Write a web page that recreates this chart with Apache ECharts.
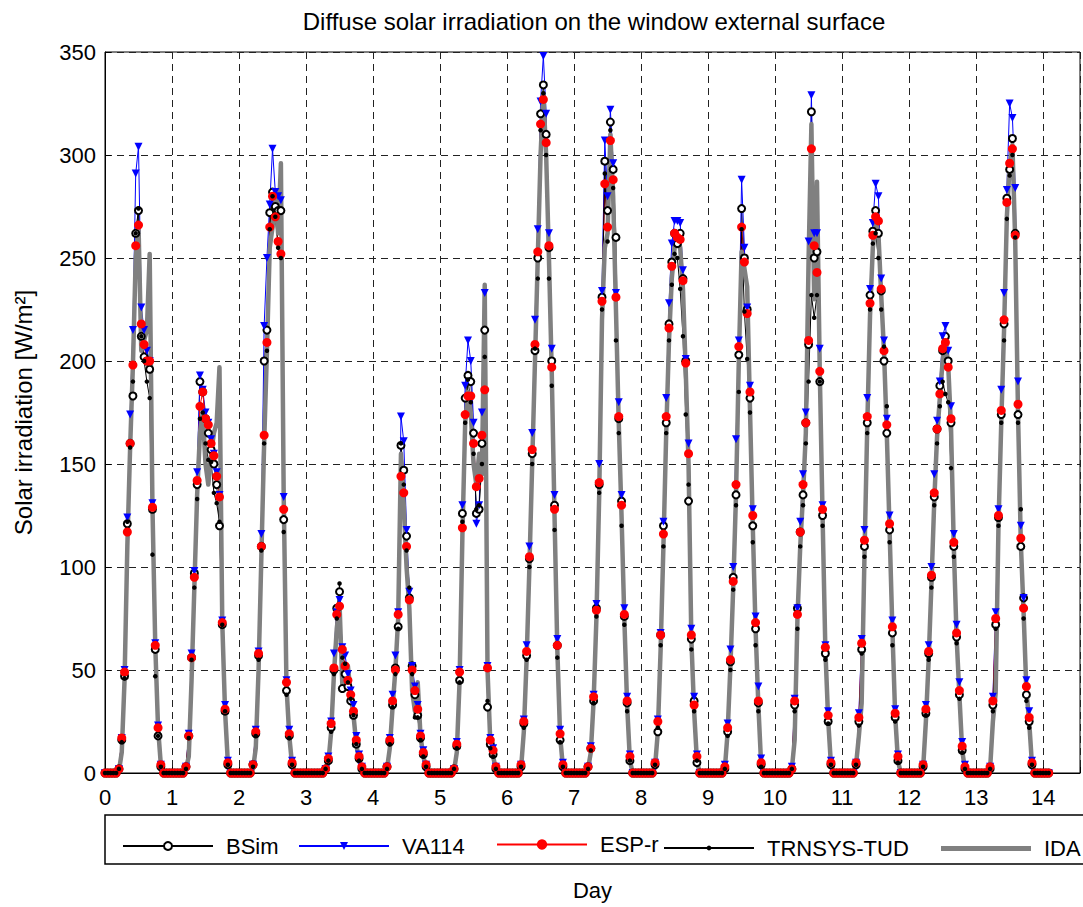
<!DOCTYPE html>
<html>
<head>
<meta charset="utf-8">
<title>Diffuse solar irradiation on the window external surface</title>
<script src="https://cdn.jsdelivr.net/npm/echarts@6/dist/echarts.min.js"></script>
<style>
  html, body { margin: 0; padding: 0; background: #fff; }
  #chart { width: 1083px; height: 907px; }
</style>
</head>
<body>
<div id="chart"></div>
<script>
// hourly values [W/m2], one row per day, hours 05:00 .. 20:00 (0 outside)
const firstHour = 5;

const bsim = [
  [2, 16, 47, 121, 160, 183, 262, 273, 212, 202, 200, 196, 128, 60, 18, 3],
  [3, 18, 56, 97, 140, 190, 185, 172, 165, 157, 150, 140, 120, 72, 30, 4],
  [4, 19, 57, 110, 200, 215, 272, 282, 275, 273, 273, 123, 40, 18, 4, 0],
  [0, 0, 2, 6, 22, 50, 80, 88, 41, 48, 42, 35, 28, 14, 7, 2],
  [3, 15, 33, 51, 71, 159, 147, 115, 85, 52, 38, 28, 17, 9, 3, 0],
  [2, 13, 45, 126, 182, 193, 190, 165, 126, 128, 160, 215, 32, 14, 9, 2],
  [3, 24, 57, 104, 155, 205, 250, 320, 334, 310, 255, 200, 130, 62, 16, 3],
  [3, 12, 35, 80, 140, 231, 297, 273, 316, 293, 260, 172, 132, 76, 34, 6],
  [4, 20, 67, 120, 170, 218, 248, 262, 257, 262, 240, 200, 132, 65, 35, 5],
  [0, 2, 20, 54, 95, 135, 203, 274, 250, 225, 182, 120, 70, 34, 4, 0],
  [0, 2, 33, 80, 117, 135, 170, 208, 321, 250, 253, 190, 125, 58, 25, 4],
  [4, 25, 60, 110, 170, 232, 263, 273, 262, 234, 200, 165, 118, 68, 27, 6],
  [3, 29, 58, 95, 134, 167, 188, 205, 212, 200, 170, 110, 66, 38, 11, 2],
  [2, 33, 72, 124, 174, 218, 279, 293, 308, 262, 174, 110, 85, 38, 25, 4]
];

const va114 = [
  [2, 17, 50, 124, 174, 215, 291, 304, 226, 215, 205, 200, 131, 63, 23, 4],
  [3, 19, 58, 98, 146, 193, 186, 175, 170, 162, 155, 146, 135, 74, 33, 6],
  [4, 21, 59, 116, 217, 250, 276, 303, 282, 280, 278, 134, 45, 21, 6, 0],
  [0, 0, 2, 8, 25, 58, 78, 84, 61, 57, 48, 40, 33, 18, 9, 3],
  [3, 17, 38, 57, 78, 173, 161, 118, 88, 52, 42, 33, 19, 11, 4, 0],
  [2, 15, 50, 130, 188, 210, 200, 170, 121, 130, 175, 233, 52, 17, 12, 3],
  [4, 26, 62, 110, 165, 220, 264, 326, 348, 320, 262, 206, 135, 65, 21, 5],
  [3, 13, 38, 82, 150, 234, 307, 280, 322, 296, 233, 180, 135, 80, 37, 9],
  [5, 26, 68, 122, 182, 228, 257, 268, 268, 267, 244, 201, 160, 70, 37, 9],
  [0, 4, 24, 60, 100, 162, 210, 288, 255, 226, 188, 128, 76, 42, 7, 0],
  [0, 3, 36, 80, 122, 145, 175, 258, 329, 262, 262, 206, 130, 62, 30, 6],
  [5, 29, 65, 118, 182, 235, 267, 286, 280, 240, 210, 172, 125, 74, 31, 9],
  [4, 33, 62, 100, 145, 171, 190, 212, 217, 205, 178, 116, 72, 44, 15, 4],
  [3, 37, 78, 128, 186, 233, 283, 325, 318, 284, 190, 120, 85, 45, 30, 6]
];

const espr = [
  [2, 17, 49, 117, 160, 198, 256, 266, 218, 208, 200, 200, 129, 62, 22, 4],
  [3, 18, 56, 95, 142, 178, 185, 172, 169, 160, 154, 144, 134, 73, 31, 5],
  [4, 20, 58, 110, 164, 209, 265, 280, 270, 258, 252, 128, 44, 19, 5, 0],
  [0, 0, 2, 7, 24, 51, 77, 81, 60, 52, 45, 38, 30, 16, 8, 3],
  [3, 16, 35, 50, 77, 144, 136, 110, 84, 50, 40, 31, 18, 10, 4, 0],
  [2, 14, 49, 119, 174, 183, 183, 160, 139, 143, 164, 186, 51, 16, 11, 3],
  [4, 25, 59, 105, 157, 208, 253, 315, 327, 306, 256, 197, 128, 62, 19, 4],
  [3, 12, 37, 79, 141, 229, 286, 265, 307, 288, 231, 173, 130, 77, 35, 8],
  [5, 25, 67, 116, 173, 216, 246, 262, 260, 259, 239, 199, 155, 67, 33, 8],
  [0, 3, 22, 55, 93, 140, 207, 265, 248, 223, 185, 125, 73, 35, 5, 0],
  [0, 2, 35, 77, 117, 140, 170, 210, 303, 256, 243, 195, 128, 61, 28, 5],
  [5, 27, 63, 113, 173, 228, 261, 270, 268, 235, 205, 169, 121, 71, 29, 8],
  [4, 31, 59, 96, 136, 167, 184, 206, 209, 197, 172, 112, 68, 40, 13, 3],
  [3, 35, 75, 125, 176, 220, 277, 296, 303, 261, 179, 114, 80, 42, 27, 5]
];

const trnsys = [
  [2, 15, 46, 122, 158, 190, 262, 274, 212, 200, 190, 182, 106, 47, 18, 3],
  [2, 17, 55, 90, 133, 172, 175, 160, 152, 151, 136, 131, 122, 72, 30, 4],
  [3, 18, 55, 108, 160, 205, 264, 280, 270, 255, 250, 117, 38, 17, 4, 0],
  [0, 0, 2, 6, 20, 48, 75, 92, 56, 53, 44, 36, 28, 14, 6, 2],
  [2, 14, 32, 48, 70, 160, 140, 108, 90, 48, 27, 27, 16, 8, 3, 0],
  [2, 12, 44, 122, 170, 191, 180, 155, 128, 130, 150, 202, 35, 12, 8, 2],
  [3, 22, 55, 100, 150, 206, 240, 312, 330, 300, 240, 188, 118, 56, 15, 3],
  [2, 11, 34, 76, 136, 225, 291, 258, 312, 284, 210, 165, 120, 72, 30, 6],
  [4, 22, 62, 110, 165, 210, 237, 252, 250, 235, 212, 174, 140, 60, 30, 6],
  [0, 2, 18, 50, 89, 130, 185, 264, 224, 201, 175, 112, 62, 30, 3, 0],
  [0, 2, 30, 70, 110, 130, 160, 190, 232, 221, 232, 190, 120, 55, 24, 4],
  [4, 23, 58, 105, 165, 225, 257, 262, 250, 225, 207, 178, 112, 62, 25, 5],
  [3, 28, 55, 90, 130, 160, 178, 190, 184, 180, 148, 105, 63, 36, 10, 2],
  [2, 30, 70, 120, 170, 210, 269, 290, 300, 260, 170, 128, 75, 35, 22, 4]
];

const ida = [
  [1, 10, 45, 110, 158, 198, 250, 266, 205, 210, 215, 252, 129, 62, 22, 4],
  [2, 8, 45, 90, 135, 165, 175, 150, 140, 155, 165, 170, 197, 73, 30, 5],
  [2, 12, 50, 105, 160, 205, 255, 265, 282, 262, 296, 135, 42, 18, 4, 0],
  [0, 0, 1, 5, 20, 48, 70, 82, 43, 47, 52, 38, 28, 14, 6, 2],
  [2, 12, 32, 50, 75, 155, 130, 100, 80, 40, 30, 44, 18, 8, 3, 0],
  [1, 10, 45, 115, 170, 185, 175, 150, 140, 155, 145, 237, 50, 15, 8, 2],
  [2, 20, 55, 100, 150, 200, 250, 300, 330, 300, 250, 195, 125, 60, 18, 3],
  [2, 10, 35, 75, 135, 220, 255, 262, 310, 280, 225, 170, 125, 75, 33, 6],
  [3, 20, 60, 110, 165, 210, 240, 255, 262, 255, 235, 195, 150, 65, 30, 6],
  [0, 2, 20, 52, 90, 135, 200, 253, 245, 236, 177, 120, 70, 33, 4, 0],
  [0, 2, 16, 75, 110, 135, 165, 250, 315, 230, 287, 195, 125, 60, 26, 4],
  [4, 18, 34, 105, 168, 222, 255, 268, 262, 232, 205, 165, 118, 70, 28, 6],
  [2, 25, 55, 92, 132, 163, 182, 200, 210, 198, 168, 110, 66, 38, 11, 2],
  [2, 25, 39, 120, 170, 215, 270, 295, 305, 258, 175, 112, 78, 40, 25, 4]
];

const dayTicks = [0, 1, 2, 3, 4, 5, 6, 7, 8, 9, 10, 11, 12, 13, 14];

const FONT = "'Liberation Sans', Arial, Helvetica, sans-serif";

// one [day, value] pair per hour, zero at night, plus the first hours of day 14
function toPoints(days) {
  const pts = [];
  for (let d = 0; d < days.length; d++) {
    for (let h = 0; h < 24; h++) {
      const i = h - firstHour;
      const v = (i >= 0 && i < days[d].length) ? days[d][i] : 0;
      pts.push([d + h / 24, v]);
    }
  }
  for (let h = 0; h <= 2; h++) pts.push([days.length + h / 24, 0]);
  return pts;
}

function lineSeries(name, days, color, symbol, size, extra) {
  return Object.assign({
    name: name,
    type: 'line',
    data: toPoints(days),
    symbol: symbol,
    symbolSize: size,
    showAllSymbol: true,
    color: color,
    lineStyle: { color: color, width: 1 },
    itemStyle: { color: color },
    emphasis: { disabled: true }
  }, extra || {});
}

function legendItem(name, left, h, extra) {
  return Object.assign({
    data: [name],
    left: left,
    top: 840 - h / 2,
    padding: 0,
    itemWidth: 90,
    itemHeight: h,
    selectedMode: false,
    textStyle: { fontSize: 22, color: '#000', fontFamily: FONT, padding: [0, 0, 0, 8] }
  }, extra || {});
}

const chart = echarts.init(document.getElementById('chart'), null, { renderer: 'svg' });

chart.setOption({
  animation: false,
  backgroundColor: '#fff',
  grid: {
    left: 105, top: 52, width: 979, height: 721,
    show: true, borderColor: '#000', borderWidth: 1
  },
  graphic: [
    {
      type: 'text', x: 594, y: 21, silent: true,
      style: {
        text: 'Diffuse solar irradiation on the window external surface',
        fontSize: 24, fontFamily: FONT, fill: '#000',
        textAlign: 'center', textVerticalAlign: 'middle'
      }
    },
    {
      type: 'rect', x: 105, y: 815, silent: true, z: -1,
      shape: { width: 1000, height: 49 },
      style: { fill: '#fff', stroke: '#000', lineWidth: 1.5 }
    }
  ],
  legend: [
    legendItem('BSim', 122, 10),
    legendItem('VA114', 298, 10),
    legendItem('ESP-r', 496, 13),
    legendItem('TRNSYS-TUD', 663, 6),
    legendItem('IDA', 941, 5, { data: [{ name: 'IDA', icon: 'rect' }] })
  ],
  xAxis: {
    type: 'value',
    min: 0,
    max: 14.55,
    interval: 1,
    name: 'Day',
    nameLocation: 'middle',
    nameGap: 106,
    nameTextStyle: { fontSize: 22, color: '#000', fontFamily: FONT },
    axisLine: { show: true, lineStyle: { color: '#000', width: 1 } },
    axisTick: { show: true, inside: true, length: 6, lineStyle: { color: '#000' } },
    axisLabel: {
      fontSize: 22, color: '#000', fontFamily: FONT, margin: 13,
      formatter: function (v) {
        return dayTicks.indexOf(v) >= 0 ? String(v) : '';
      }
    },
    splitLine: { show: true, lineStyle: { color: '#222', type: [7, 5], width: 1 } }
  },
  yAxis: {
    type: 'value',
    min: 0,
    max: 350,
    interval: 50,
    name: 'Solar irradiation [W/m²]',
    nameLocation: 'middle',
    nameGap: 70,
    nameTextStyle: { fontSize: 24, color: '#000', fontFamily: FONT },
    axisLine: { show: true, lineStyle: { color: '#000', width: 1 } },
    axisTick: { show: true, inside: true, length: 6, lineStyle: { color: '#000' } },
    axisLabel: { fontSize: 22, color: '#000', fontFamily: FONT, margin: 9 },
    splitLine: { show: true, lineStyle: { color: '#222', type: [7, 5], width: 1 } }
  },
  series: [
    lineSeries('BSim', bsim, '#000', 'emptyCircle', 7,
      { itemStyle: { color: '#000', borderColor: '#000', borderWidth: 1 }, lineStyle: { color: '#000', width: 0.8 } }),
    lineSeries('VA114', va114, '#0000ff', 'triangle', 8, { symbolRotate: 180 }),
    lineSeries('ESP-r', espr, '#ff0000', 'circle', 9),
    lineSeries('TRNSYS-TUD', trnsys, '#000', 'circle', 4.5),
    lineSeries('IDA', ida, '#808080', 'none', 0,
      { lineStyle: { color: '#808080', width: 4.5, cap: 'round', join: 'round' } })
  ]
});
</script>
</body>
</html>
